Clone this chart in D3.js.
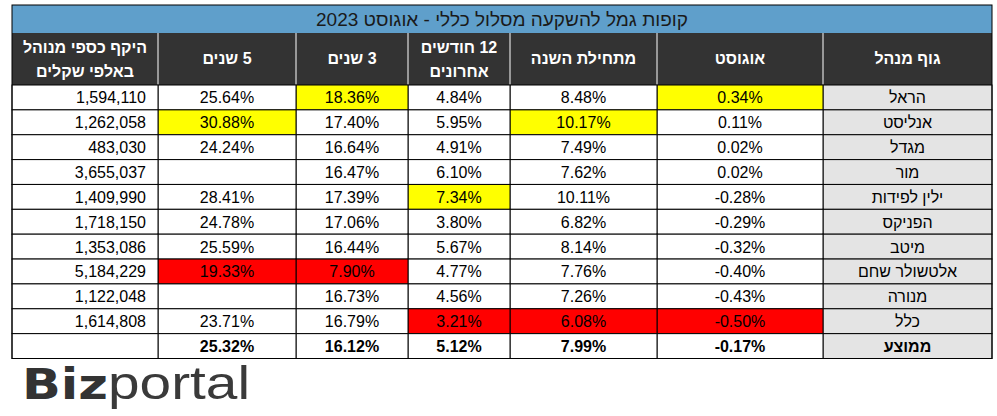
<!DOCTYPE html>
<html><head><meta charset="utf-8">
<script src="https://cdn.jsdelivr.net/npm/d3@7"></script>
<style>body{margin:0;background:#fff}</style></head>
<body><svg id="c" width="997" height="416"></svg>
<script>
const title = "קופות גמל להשקעה מסלול כללי - אוגוסט 2023";
const headers = [["גוף מנהל"],["אוגוסט"],["מתחילת השנה"],["12 חודשים","אחרונים"],["3 שנים"],["5 שנים"],["היקף כספי מנוהל","באלפי שקלים"]];
const managers = ["הראל","אנליסט","מגדל","מור","ילין לפידות","הפניקס","מיטב","אלטשולר שחם","מנורה","כלל"];
const august = ["0.34%","0.11%","0.02%","0.02%","-0.28%","-0.29%","-0.32%","-0.40%","-0.43%","-0.50%"];
const ytd = ["8.48%","10.17%","7.49%","7.62%","10.11%","6.82%","8.14%","7.76%","7.26%","6.08%"];
const m12 = ["4.84%","5.95%","4.91%","6.10%","7.34%","3.80%","5.67%","4.77%","4.56%","3.21%"];
const y3 = ["18.36%","17.40%","16.64%","16.47%","17.39%","17.06%","16.44%","7.90%","16.73%","16.79%"];
const y5 = ["25.64%","30.88%","24.24%","","28.41%","24.78%","25.59%","19.33%","","23.71%"];
const aum = ["1,594,110","1,262,058","483,030","3,655,037","1,409,990","1,718,150","1,353,086","5,184,229","1,122,048","1,614,808"];
const average = ["ממוצע","-0.17%","7.99%","5.12%","16.12%","25.32%",""];
// highlights: [row, col, colour key]
const highlights = [[0,1,"y"],[0,4,"y"],[1,2,"y"],[1,5,"y"],[4,3,"y"],[7,4,"r"],[7,5,"r"],[9,1,"r"],[9,2,"r"],[9,3,"r"]];

const svg = d3.select("#c");
const edges = [992,823,657,510,408,296,158,12];
const cols = [managers,august,ytd,m12,y3,y5,aum];
const rows = d3.range(managers.length+1);
const y = d3.scaleBand().domain(rows).range([85,358.5]);
const font = "'Liberation Sans', Arial, sans-serif";
const hmap = {}; highlights.forEach(h=>hmap[h[0]+"_"+h[1]]=h[2]);
const colr = {y:"#ffff00", r:"#ff0000"};

svg.append("rect").attr("x",12).attr("y",5).attr("width",980).attr("height",28).attr("fill","#5f9fcb");
svg.append("text").attr("x",502).attr("y",25.5).attr("text-anchor","middle").attr("font-family",font).attr("font-size",19).attr("fill","#1a1a1a").attr("direction","rtl").text(title);
svg.append("rect").attr("x",12).attr("y",33).attr("width",980).attr("height",52).attr("fill","#333333");
headers.forEach((h,i)=>{
  const cx=(edges[i]+edges[i+1])/2;
  const t=svg.append("text").attr("text-anchor","middle").attr("font-family",font).attr("font-weight","bold").attr("font-size",16).attr("fill","#fff").attr("direction","rtl");
  if(h.length===1) t.append("tspan").attr("x",cx).attr("y",64).text(h[0]);
  else { t.append("tspan").attr("x",cx).attr("y",53).text(h[0]); t.append("tspan").attr("x",cx).attr("y",77).text(h[1]); }
});
svg.selectAll("line.hv").data(edges.slice(1,-1)).enter().append("line").attr("x1",d=>d).attr("x2",d=>d).attr("y1",33).attr("y2",85).attr("stroke","#fff").attr("stroke-width",1);

rows.forEach(r=>{
  const isAvg = r===managers.length;
  for(let c=0;c<7;c++){
    const x0=edges[c+1], x1=edges[c];
    const key=hmap[r+"_"+c];
    let fill = key?colr[key]:(c===0?"#e4e4e4":"#fff");
    svg.append("rect").attr("x",x0).attr("y",y(r)).attr("width",x1-x0).attr("height",y.bandwidth()).attr("fill",fill).attr("stroke","#000").attr("stroke-width",1);
    const val = isAvg?average[c]:cols[c][r];
    const t=svg.append("text").attr("y",y(r)+y.bandwidth()/2+6).attr("font-family",font).attr("font-size",16).attr("fill","#000");
    if(isAvg && c<6) t.attr("font-weight","bold");
    if(c===6) t.attr("x",x1-12).attr("text-anchor","end");
    else t.attr("x",(x0+x1)/2).attr("text-anchor","middle");
    if(c===0) t.attr("direction","rtl");
    t.text(val);
  }
});
svg.append("rect").attr("x",12).attr("y",5).attr("width",980).attr("height",353.5).attr("fill","none").attr("stroke","#000").attr("stroke-width",1);

const lg=svg.append("text").attr("x",22).attr("y",399).attr("font-family","'DejaVu Sans', Arial, sans-serif").attr("font-size",42).attr("fill","#333");
lg.append("tspan").attr("font-weight","bold").attr("textLength",86).attr("lengthAdjust","spacingAndGlyphs").text("Biz");
lg.append("tspan").attr("font-family","'Liberation Sans', Arial").attr("font-weight","normal").attr("fill","#3a3a3a").attr("font-size",46).attr("textLength",142).attr("lengthAdjust","spacingAndGlyphs").text("portal");
</script></body></html>
